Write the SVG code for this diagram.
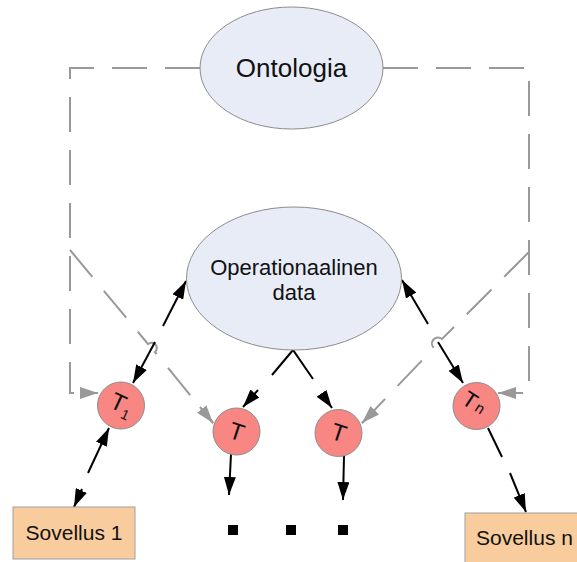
<svg xmlns="http://www.w3.org/2000/svg" width="577" height="562" viewBox="0 0 577 562">
  <style>
    .ell { fill: #e8ecf6; stroke: #8c8c8c; stroke-width: 1; }
    .tnode { fill: #f88682; stroke: #8c8c8c; stroke-width: 1; }
    .app { fill: #f9cc9d; stroke: #a0a0a0; stroke-width: 1; }
    .lbl { font-family: "Liberation Sans", Arial, sans-serif; fill: #111; }
    .dash { fill: none; stroke: #999; stroke-width: 2; stroke-dasharray: 35 18; }
    .gray { fill: none; stroke: #999; stroke-width: 2; }
    .blk { fill: none; stroke: #000; stroke-width: 2; }
  </style>
  <defs>
    <marker id="ah" markerUnits="userSpaceOnUse" markerWidth="18" markerHeight="12" refX="18" refY="6" orient="auto">
      <path d="M0,0 L18,6 L0,12 z" fill="#000"/>
    </marker>
    <marker id="gh" markerUnits="userSpaceOnUse" markerWidth="18" markerHeight="12" refX="18" refY="6" orient="auto">
      <path d="M0,0 L18,6 L0,12 z" fill="#999"/>
    </marker>
  </defs>

  <!-- connectors -->
  <g id="connectors">
    <!-- ontology links (dashed gray) -->
    <path class="dash" d="M200,68 H70 V393 H80"/>
    <path class="gray" d="M80,393 H98" marker-end="url(#gh)"/>
    <path class="dash" d="M383,68 H529 V393 H517"/>
    <path class="gray" d="M517,393 H498" marker-end="url(#gh)"/>
    <path class="dash" d="M70,250 L148,344 A4,4 0 0 1 155,352 L213,423"/>
    <path class="gray" d="M200,407 L213,423" marker-end="url(#gh)"/>
    <path class="dash" d="M529,252 L442,339 A4,4 0 0 0 434,348 L362,423"/>
    <path class="gray" d="M375,410 L362,423" marker-end="url(#gh)"/>

    <!-- data links (black) -->
    <path class="blk" d="M163,326 L186,281" marker-end="url(#ah)"/>
    <path class="blk" d="M155,342 L133,383" marker-end="url(#ah)"/>

    <path class="blk" d="M272,375 L293,350 L313,379"/>
    <path class="blk" d="M258,390 L243,407" marker-end="url(#ah)"/>
    <path class="blk" d="M322,394 L332,408" marker-end="url(#ah)"/>

    <path class="blk" d="M428,324 L402,280" marker-end="url(#ah)"/>
    <path class="blk" d="M438,342 L463,383" marker-end="url(#ah)"/>

    <path class="blk" d="M88,473 L109,428" marker-end="url(#ah)"/>
    <path class="blk" d="M82,489 L74,507" marker-end="url(#ah)"/>

    <path class="blk" d="M231,454 L229,495" marker-end="url(#ah)"/>
    <path class="blk" d="M344,456 L343,500" marker-end="url(#ah)"/>

    <path class="blk" d="M488,428 L502,457"/>
    <path class="blk" d="M510,473 L526,512" marker-end="url(#ah)"/>
  </g>

  <g id="ontologia">
    <ellipse class="ell" cx="291.5" cy="68" rx="91.5" ry="61"/>
    <text class="lbl" x="291.5" y="77" font-size="26" text-anchor="middle">Ontologia</text>
  </g>

  <g id="operationaalinen-data">
    <ellipse class="ell" cx="294" cy="278.5" rx="107.5" ry="71.5"/>
    <text class="lbl" x="294" y="275" font-size="22" text-anchor="middle">Operationaalinen</text>
    <text class="lbl" x="294" y="300" font-size="22" text-anchor="middle">data</text>
  </g>

  <g id="t1">
    <circle class="tnode" cx="121" cy="405.5" r="23.5"/>
    <text class="lbl" font-size="24" transform="translate(119,403) rotate(25)" x="-8" y="8">T<tspan font-size="14" dy="5">1</tspan></text>
  </g>

  <g id="t-a">
    <circle class="tnode" cx="236.5" cy="431.5" r="23.5"/>
    <text class="lbl" font-size="24" text-anchor="middle" transform="translate(237,431) rotate(18)" y="9">T</text>
  </g>

  <g id="t-b">
    <circle class="tnode" cx="338.5" cy="433" r="23.5"/>
    <text class="lbl" font-size="24" text-anchor="middle" transform="translate(339,432) rotate(18)" y="9">T</text>
  </g>

  <g id="tn">
    <circle class="tnode" cx="476.5" cy="406" r="23.5"/>
    <text class="lbl" font-size="22" transform="translate(475,404) rotate(33)" x="-13" y="7">T<tspan font-size="15" dx="2" dy="-1">n</tspan></text>
  </g>

  <g id="sovellus-1">
    <rect class="app" x="13" y="507" width="122" height="52"/>
    <text class="lbl" x="74" y="540" font-size="21" text-anchor="middle">Sovellus 1</text>
  </g>

  <g id="sovellus-n">
    <rect class="app" x="465" y="513" width="125" height="60"/>
    <text class="lbl" x="476" y="545" font-size="21">Sovellus n</text>
  </g>

  <g id="ellipsis">
    <rect x="228" y="525" width="10" height="10" fill="#000"/>
    <rect x="286" y="525" width="10" height="10" fill="#000"/>
    <rect x="338" y="525" width="10" height="10" fill="#000"/>
  </g>
</svg>
